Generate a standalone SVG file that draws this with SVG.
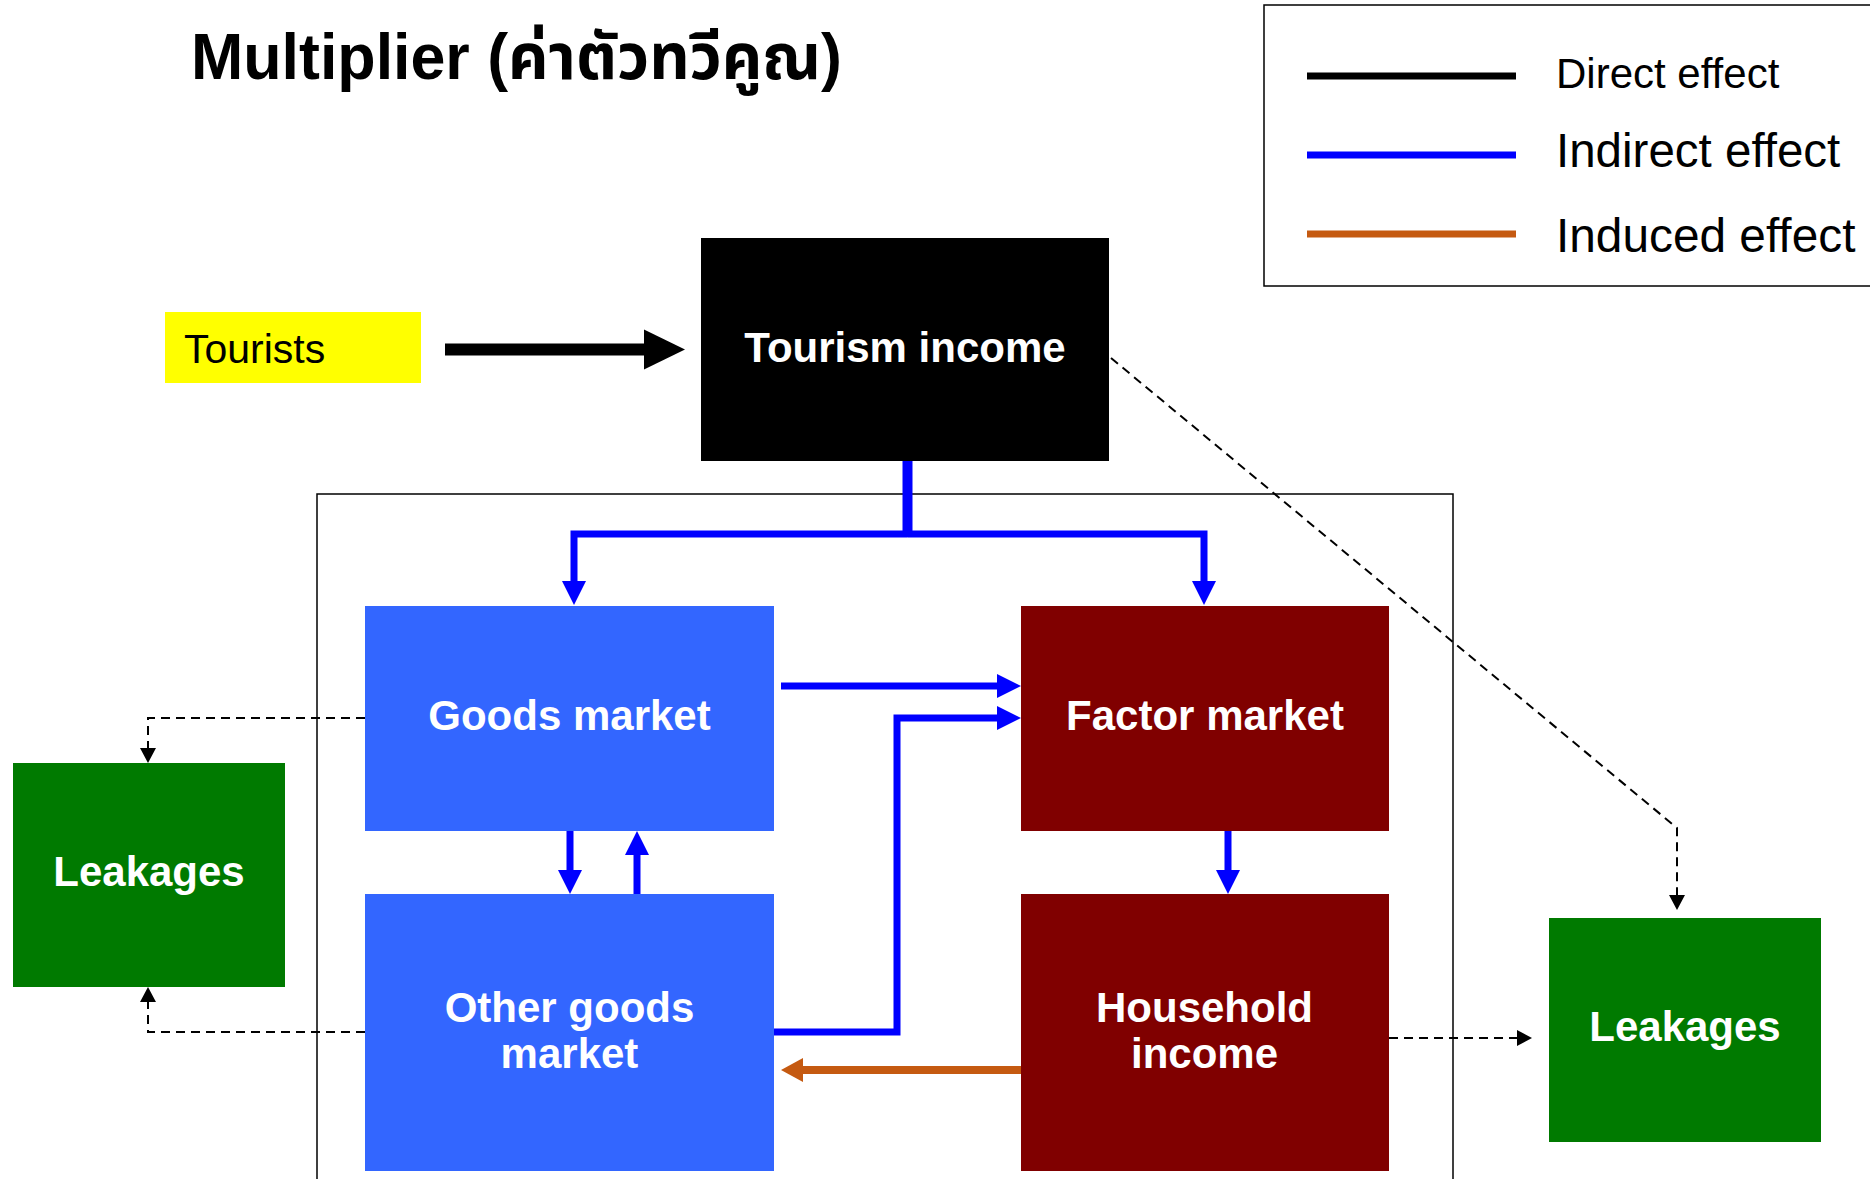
<svg xmlns="http://www.w3.org/2000/svg" width="1870" height="1179" viewBox="0 0 1870 1179">
<style>
.lbl{font-family:"Liberation Sans",Arial,sans-serif;font-weight:bold;font-size:42px;fill:#fff;text-anchor:middle}
.leg{font-family:"Liberation Sans",Arial,sans-serif;fill:#000}
.blue{fill:none;stroke:#0000FF;stroke-width:7}
.dash{fill:none;stroke:#000;stroke-width:2;stroke-dasharray:9 6}
</style>
<defs>
<marker id="bh" markerUnits="userSpaceOnUse" markerWidth="24" markerHeight="24" refX="0" refY="12" orient="auto"><path d="M0,0 L24,12 L0,24 Z" fill="#0000FF"/></marker>
<marker id="oh" markerUnits="userSpaceOnUse" markerWidth="22" markerHeight="24" refX="0" refY="12" orient="auto"><path d="M0,0 L22,12 L0,24 Z" fill="#C55A11"/></marker>
<marker id="dh" markerUnits="userSpaceOnUse" markerWidth="15" markerHeight="16" refX="0" refY="8" orient="auto"><path d="M0,0 L15,8 L0,16 Z" fill="#000"/></marker>
</defs>
<rect width="1870" height="1179" fill="#fff"/>
<text id="title" x="191" y="79" font-family="'Liberation Sans','Noto Sans Thai','Noto Sans',sans-serif" font-weight="bold" font-size="64" textLength="651" lengthAdjust="spacingAndGlyphs">Multiplier (ค่าตัวทวีคูณ)</text>
<g id="legend">
<rect x="1264" y="5" width="620" height="281" fill="none" stroke="#000" stroke-width="1.5"/>
<line x1="1307" y1="76" x2="1516" y2="76" stroke="#000" stroke-width="7"/>
<line x1="1307" y1="155" x2="1516" y2="155" stroke="#0000FF" stroke-width="7"/>
<line x1="1307" y1="234" x2="1516" y2="234" stroke="#C55A11" stroke-width="7"/>
<text class="leg" x="1556" y="88" font-size="42">Direct effect</text>
<text class="leg" x="1556" y="167" font-size="47.5">Indirect effect</text>
<text class="leg" x="1556" y="252" font-size="47.8">Induced effect</text>
</g>
<rect id="container" x="317" y="494" width="1136" height="700" fill="none" stroke="#000" stroke-width="1.5"/>
<g id="tourists"><rect x="165" y="312" width="256" height="71" fill="#FFFF00"/><text x="184" y="363" font-family="'Liberation Sans',Arial,sans-serif" font-size="41">Tourists</text></g>
<g id="tourism-income"><rect x="701" y="238" width="408" height="223" fill="#000"/><text class="lbl" x="905" y="362">Tourism income</text></g>
<g id="goods-market"><rect x="365" y="606" width="409" height="225" fill="#3366FF"/><text class="lbl" x="569.5" y="730">Goods market</text></g>
<g id="factor-market"><rect x="1021" y="606" width="368" height="225" fill="#800000"/><text class="lbl" x="1205" y="730">Factor market</text></g>
<g id="other-goods-market"><rect x="365" y="894" width="409" height="277" fill="#3366FF"/><text class="lbl" x="569.5" y="1022">Other goods</text><text class="lbl" x="569.5" y="1068">market</text></g>
<g id="household-income"><rect x="1021" y="894" width="368" height="277" fill="#800000"/><text class="lbl" x="1204.5" y="1022">Household</text><text class="lbl" x="1204.5" y="1068">income</text></g>
<g id="leakages-left"><rect x="13" y="763" width="272" height="224" fill="#007A00"/><text class="lbl" x="149" y="886">Leakages</text></g>
<g id="leakages-right"><rect x="1549" y="918" width="272" height="224" fill="#007A00"/><text class="lbl" x="1685" y="1041">Leakages</text></g>
<g id="connectors">
<path d="M445,349.5 H644" stroke="#000" stroke-width="12" fill="none"/>
<path d="M644,329.5 L685,349.5 L644,369.5 Z" fill="#000"/>
<path d="M907.5,461 V537" stroke="#0000FF" stroke-width="10" fill="none"/>
<path class="blue" d="M907.5,534 H574 V581" marker-end="url(#bh)"/>
<path class="blue" d="M907.5,534 H1204 V581" marker-end="url(#bh)"/>
<path class="blue" d="M781,686 H997" marker-end="url(#bh)"/>
<path class="blue" d="M774,1032 H897 V718 H997" marker-end="url(#bh)"/>
<path class="blue" d="M570,831 V870" marker-end="url(#bh)"/>
<path class="blue" d="M637,894 V855" marker-end="url(#bh)"/>
<path class="blue" d="M1228,831 V870" marker-end="url(#bh)"/>
<path d="M1021,1070 H803" stroke="#C55A11" stroke-width="8" fill="none" marker-end="url(#oh)"/>
<path class="dash" d="M365,718 H148 V748" marker-end="url(#dh)"/>
<path class="dash" d="M365,1032 H148 V1002" marker-end="url(#dh)"/>
<path class="dash" d="M1389,1038 H1517" stroke-width="3" stroke-dasharray="8 5" marker-end="url(#dh)"/>
<path class="dash" d="M1111,358 L1677,828 V895" stroke-width="1.6" stroke-dasharray="8 6" marker-end="url(#dh)"/>
</g>
</svg>
